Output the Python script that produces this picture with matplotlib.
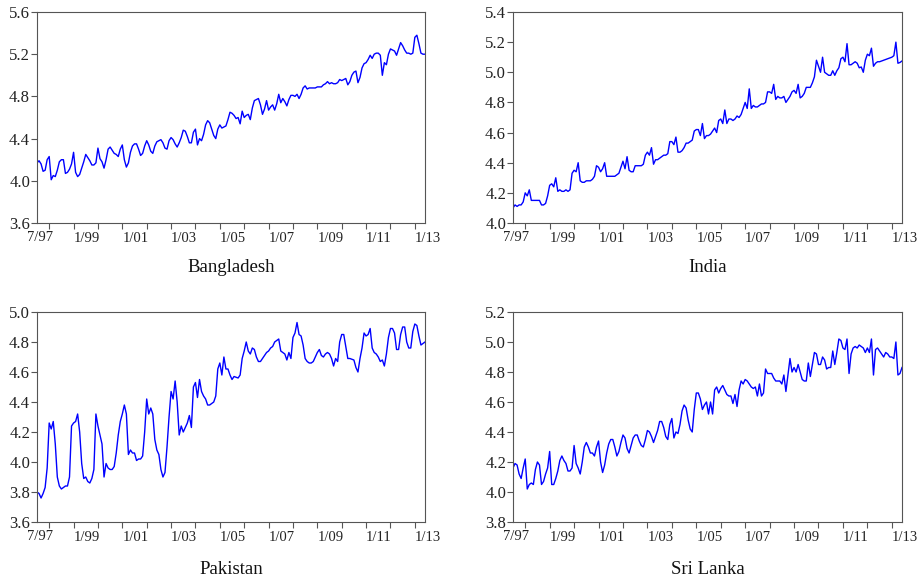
import numpy as np
import matplotlib
matplotlib.use("Agg")
import matplotlib.pyplot as plt
from matplotlib.ticker import FixedLocator, FixedFormatter

plt.rcParams['font.family'] = ['Liberation Serif', 'DejaVu Serif']

# Monthly observations, 1997M07 .. 2013M06
start_year, start_month = 1997, 7

bangladesh = [
    4.17, 4.19, 4.16, 4.09, 4.10, 4.20,
    4.23, 4.01, 4.05, 4.04, 4.10, 4.18, 4.20, 4.20, 4.07, 4.08, 4.11, 4.16,
    4.27, 4.08, 4.04, 4.06, 4.12, 4.18, 4.25, 4.22, 4.19, 4.15, 4.15, 4.17,
    4.31, 4.21, 4.18, 4.12, 4.20, 4.30, 4.32, 4.29, 4.26, 4.25, 4.23, 4.30,
    4.34, 4.20, 4.13, 4.17, 4.27, 4.33, 4.35, 4.35, 4.30, 4.24, 4.26, 4.33,
    4.38, 4.34, 4.28, 4.26, 4.33, 4.37, 4.38, 4.39, 4.36, 4.31, 4.30, 4.38,
    4.41, 4.39, 4.35, 4.32, 4.36, 4.41, 4.48, 4.47, 4.42, 4.36, 4.36, 4.46,
    4.49, 4.34, 4.40, 4.38, 4.44, 4.53, 4.57, 4.55, 4.49, 4.43, 4.40, 4.49,
    4.53, 4.50, 4.51, 4.52, 4.58, 4.65, 4.64, 4.62, 4.59, 4.60, 4.54, 4.66,
    4.60, 4.62, 4.63, 4.58, 4.69, 4.76, 4.77, 4.78, 4.72, 4.63, 4.68, 4.76,
    4.67, 4.70, 4.72, 4.67, 4.73, 4.82, 4.74, 4.78, 4.75, 4.71, 4.77, 4.81,
    4.81, 4.80, 4.82, 4.78, 4.82, 4.88, 4.90, 4.87, 4.88, 4.88, 4.88, 4.88,
    4.89, 4.89, 4.89, 4.91, 4.92, 4.94, 4.92, 4.93, 4.92, 4.92, 4.93, 4.96,
    4.95, 4.96, 4.97, 4.91, 4.94, 5.00, 5.03, 5.04, 4.93, 4.98, 5.07, 5.11,
    5.12, 5.15, 5.19, 5.16, 5.20, 5.21, 5.21, 5.19, 5.00, 5.12, 5.10, 5.20,
    5.25, 5.24, 5.23, 5.19, 5.25, 5.31, 5.28, 5.24, 5.21, 5.21, 5.20, 5.21,
    5.36, 5.38, 5.30, 5.21, 5.20, 5.20,
]

india = [
    4.10, 4.12, 4.11, 4.12, 4.12, 4.14,
    4.20, 4.18, 4.22, 4.15, 4.15, 4.15, 4.15, 4.15, 4.12, 4.12, 4.13, 4.18,
    4.25, 4.26, 4.24, 4.30, 4.21, 4.22, 4.21, 4.21, 4.22, 4.21, 4.22, 4.33,
    4.35, 4.34, 4.40, 4.28, 4.27, 4.27, 4.28, 4.28, 4.28, 4.29, 4.31, 4.38,
    4.37, 4.34, 4.36, 4.40, 4.31, 4.31, 4.31, 4.31, 4.31, 4.32, 4.33, 4.37,
    4.41, 4.36, 4.44, 4.35, 4.34, 4.34, 4.38, 4.38, 4.38, 4.38, 4.39, 4.45,
    4.47, 4.45, 4.50, 4.39, 4.42, 4.42, 4.43, 4.44, 4.45, 4.45, 4.46, 4.54,
    4.54, 4.52, 4.57, 4.47, 4.47, 4.48, 4.50, 4.53, 4.53, 4.54, 4.55, 4.61,
    4.62, 4.62, 4.58, 4.66, 4.56, 4.58, 4.58, 4.59, 4.61, 4.63, 4.60, 4.68,
    4.69, 4.66, 4.75, 4.66, 4.69, 4.69, 4.68, 4.69, 4.71, 4.70, 4.72, 4.76,
    4.80, 4.76, 4.89, 4.76, 4.78, 4.77, 4.77, 4.78, 4.79, 4.79, 4.80, 4.87,
    4.87, 4.86, 4.92, 4.82, 4.84, 4.83, 4.83, 4.84, 4.80, 4.82, 4.84, 4.87,
    4.88, 4.86, 4.92, 4.83, 4.84, 4.86, 4.90, 4.90, 4.90, 4.93, 4.97, 5.08,
    5.04, 5.00, 5.10, 5.00, 4.99, 4.98, 4.98, 5.01, 4.98, 5.01, 5.03, 5.09,
    5.10, 5.07, 5.19, 5.05, 5.05, 5.06, 5.07, 5.06, 5.03, 5.035, 5.00, 5.08,
    5.12, 5.11, 5.16, 5.04, 5.06, 5.07, 5.07, 5.075, 5.08, 5.085, 5.09, 5.095,
    5.10, 5.11, 5.20, 5.06, 5.065, 5.075,
]

pakistan = [
    3.80, 3.79, 3.76, 3.79, 3.83, 3.96,
    4.26, 4.22, 4.27, 4.12, 3.90, 3.84, 3.82, 3.83, 3.84, 3.84, 3.90, 4.24,
    4.26, 4.27, 4.32, 4.20, 3.99, 3.89, 3.90, 3.87, 3.86, 3.89, 3.95, 4.32,
    4.24, 4.18, 4.12, 3.90, 3.99, 3.96, 3.95, 3.95, 3.97, 4.06, 4.18, 4.27,
    4.32, 4.38, 4.32, 4.05, 4.08, 4.06, 4.06, 4.01, 4.02, 4.02, 4.04, 4.20,
    4.42, 4.32, 4.36, 4.32, 4.15, 4.08, 4.05, 3.95, 3.90, 3.93, 4.10, 4.30,
    4.47, 4.42, 4.54, 4.40, 4.18, 4.24, 4.20, 4.23, 4.26, 4.31, 4.23, 4.50,
    4.53, 4.43, 4.55, 4.47, 4.44, 4.42, 4.38, 4.38, 4.39, 4.40, 4.44, 4.62,
    4.66, 4.58, 4.70, 4.62, 4.62, 4.58, 4.55, 4.57, 4.565, 4.56, 4.58, 4.69,
    4.74, 4.80, 4.74, 4.72, 4.76, 4.75, 4.70, 4.67, 4.67, 4.69, 4.71, 4.73,
    4.74, 4.76, 4.77, 4.80, 4.81, 4.82, 4.74, 4.73, 4.72, 4.68, 4.73, 4.69,
    4.83, 4.86, 4.93, 4.85, 4.84, 4.78, 4.69, 4.67, 4.66, 4.66, 4.67, 4.70,
    4.73, 4.75, 4.71, 4.70, 4.72, 4.73, 4.72, 4.69, 4.64, 4.69, 4.67, 4.80,
    4.85, 4.85, 4.77, 4.69, 4.69, 4.685, 4.68, 4.63, 4.60, 4.69, 4.76, 4.86,
    4.84, 4.85, 4.89, 4.76, 4.73, 4.72, 4.70, 4.67, 4.68, 4.64, 4.72, 4.83,
    4.89, 4.89, 4.86, 4.75, 4.75, 4.85, 4.90, 4.90, 4.80, 4.76, 4.76, 4.87,
    4.92, 4.91, 4.84, 4.78, 4.79, 4.80,
]

sri_lanka = [
    4.16, 4.19, 4.18, 4.12, 4.09, 4.16,
    4.22, 4.02, 4.05, 4.06, 4.05, 4.15, 4.20, 4.18, 4.05, 4.07, 4.12, 4.16,
    4.27, 4.05, 4.05, 4.09, 4.14, 4.21, 4.24, 4.21, 4.19, 4.14, 4.14, 4.16,
    4.31, 4.19, 4.16, 4.12, 4.20, 4.30, 4.33, 4.30, 4.26, 4.26, 4.24, 4.30,
    4.34, 4.20, 4.13, 4.18, 4.26, 4.32, 4.35, 4.35, 4.30, 4.24, 4.27, 4.33,
    4.38, 4.36, 4.29, 4.26, 4.31, 4.36, 4.38, 4.38, 4.34, 4.31, 4.30, 4.35,
    4.41, 4.40, 4.37, 4.33, 4.37, 4.41, 4.47, 4.47, 4.43, 4.37, 4.35, 4.45,
    4.49, 4.36, 4.40, 4.39, 4.45, 4.54, 4.58, 4.56, 4.48, 4.42, 4.40, 4.55,
    4.66, 4.66, 4.62, 4.55, 4.58, 4.60, 4.52, 4.60, 4.52, 4.68, 4.70, 4.66,
    4.69, 4.71, 4.68, 4.65, 4.64, 4.64, 4.59, 4.65, 4.57, 4.68, 4.74, 4.72,
    4.75, 4.74, 4.72, 4.70, 4.69, 4.70, 4.64, 4.72, 4.64, 4.66, 4.82, 4.79,
    4.79, 4.79, 4.76, 4.74, 4.74, 4.74, 4.72, 4.78, 4.67, 4.78, 4.89, 4.80,
    4.83, 4.80, 4.85, 4.80, 4.75, 4.74, 4.74, 4.86, 4.77, 4.85, 4.93, 4.92,
    4.85, 4.85, 4.90, 4.88, 4.82, 4.83, 4.83, 4.94, 4.85, 4.93, 5.02, 5.01,
    4.96, 4.95, 5.02, 4.79, 4.92, 4.96, 4.97, 4.96, 4.98, 4.97, 4.96, 4.93,
    4.96, 4.93, 5.02, 4.78, 4.95, 4.96, 4.94, 4.92, 4.90, 4.93, 4.92, 4.90,
    4.90, 4.89, 5.00, 4.78, 4.79, 4.83,
]

countries = ["Bangladesh", "India", "Pakistan", "Sri Lanka"]
series = [bangladesh, india, pakistan, sri_lanka]
y_ranges = [(3.6, 5.6, 0.4), (4.0, 5.4, 0.2), (3.6, 5.0, 0.2), (3.8, 5.2, 0.2)]
first_label = "7/97"

n = len(bangladesh)
t = np.arange(n)  # months since 1997M07
jan_pos = [i for i in range(n) if (start_month - 1 + i) % 12 == 0]
jan_years = [(start_year * 12 + start_month - 1 + p) // 12 for p in jan_pos]
jan_labels = [f"1/{y % 100:02d}" if y % 2 == 1 else "" for y in jan_years]

fig = plt.figure(figsize=(9.19, 5.82), dpi=100)
W, H = 919, 582
boxes = [(37, 12, 388, 211), (513, 12, 389, 211), (37, 312, 388, 210), (513, 312, 389, 210)]
title_y = [268, 268, 570, 570]
axcol = "#555555"
txtcol = "#222222"

for k, (name, vals) in enumerate(zip(countries, series)):
    x0, y0, w, h = boxes[k]
    ax = fig.add_axes([x0 / W, 1 - (y0 + h) / H, w / W, h / H])
    ax.plot(t, vals, color="#0000FF", lw=1.0)
    lo, hi, step = y_ranges[k]
    ax.set_xlim(0, n - 1)
    ax.set_ylim(lo, hi)
    yt = np.round(np.arange(lo, hi + step / 2, step), 2)
    ax.set_yticks(yt)
    ax.set_yticklabels([f"{v:.1f}" for v in yt])
    ax.xaxis.set_major_locator(FixedLocator(jan_pos))
    ax.xaxis.set_major_formatter(FixedFormatter(jan_labels))
    ax.xaxis.set_minor_locator(FixedLocator([1.5]))
    ax.xaxis.set_minor_formatter(FixedFormatter([first_label]))
    ax.tick_params(axis="x", which="minor", length=0, pad=6, labelsize=10.5, labelcolor=txtcol)
    ax.tick_params(axis="x", which="major", length=4, width=0.8, color=axcol, direction="out",
                   labelsize=10.5, labelcolor=txtcol, pad=2.5)
    ax.tick_params(axis="y", length=4, width=0.8, color=axcol, direction="out", labelsize=12,
                   labelcolor=txtcol, pad=1)
    for lbl in ax.get_xticklabels():
        lbl.set_horizontalalignment("left")
    for sp in ax.spines.values():
        sp.set_color(axcol)
        sp.set_linewidth(0.8)
    fig.text((x0 + w / 2) / W, 1 - title_y[k] / H, name, ha="center", va="center",
             fontsize=13.5, color="#111111")

fig.savefig("out.png", dpi=100)
